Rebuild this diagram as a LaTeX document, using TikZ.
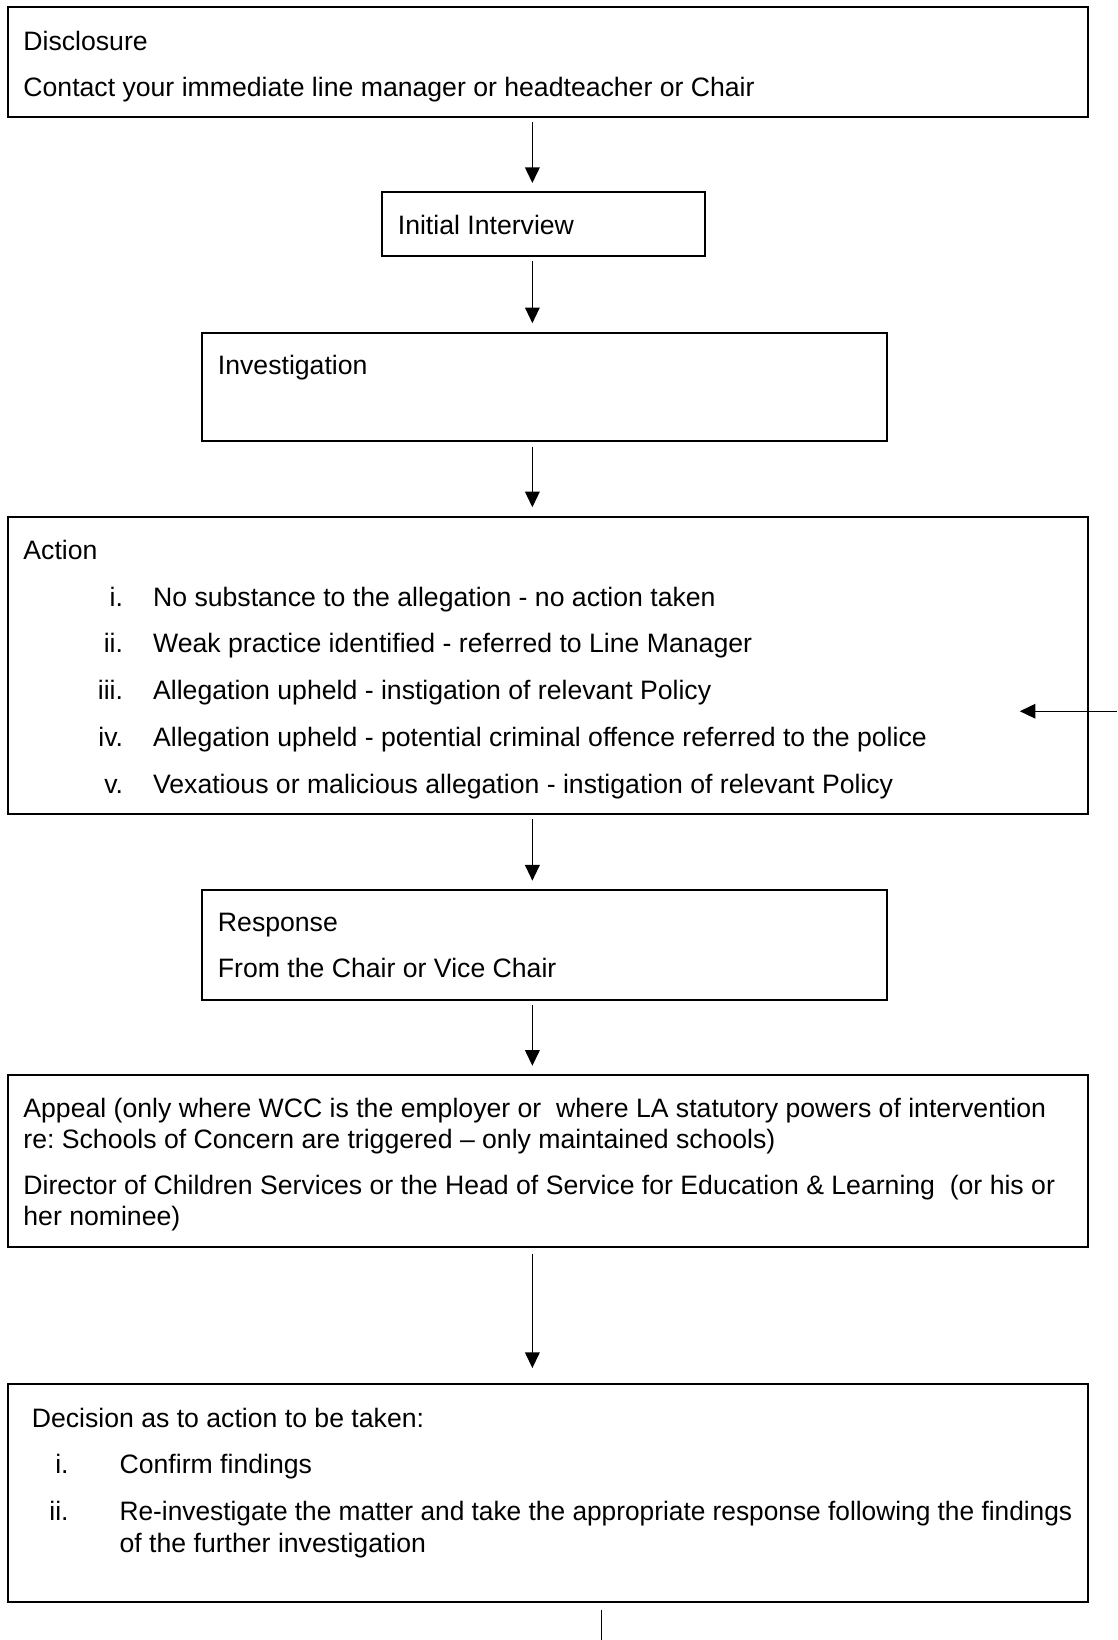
\documentclass[tikz,border=0pt]{standalone}
\usepackage{fontspec}
\setmainfont{Liberation Sans}
\usetikzlibrary{arrows.meta,fit}
\begin{document}
\frenchspacing
\begin{tikzpicture}[x=0.5pt,y=-0.5pt,
  box/.style={draw=black, line width=1pt, inner sep=0pt},
  arr/.style={draw=black, line width=0.7pt, -{Triangle[length=7.5pt,width=7pt]}},
  plain/.style={draw=black, line width=0.7pt},
  txt/.style={anchor=base west, inner sep=0pt, font=\fontsize{12.73}{15}\selectfont},
  num/.style={anchor=base east, inner sep=0pt, font=\fontsize{12.73}{15}\selectfont}]
\useasboundingbox (0,0) rectangle (1068,1568);
% boxes
\node[box, fit={(8,7)(1040,112)}] (b1) {};
\node[box, fit={(365,184)(674,245)}] (b2) {};
\node[box, fit={(193,318)(848,422)}] (b3) {};
\node[box, fit={(8,494)(1040,778)}] (b4) {};
\node[box, fit={(193,851)(848,956)}] (b5) {};
\node[box, fit={(8,1028)(1040,1192)}] (b6) {};
\node[box, fit={(8,1323)(1040,1532)}] (b7) {};
% texts
\node[txt] (t1a) at (22,48) {Disclosure};
\node[txt] (t1b) at (22,92) {Contact your immediate line manager or headteacher or Chair};
\node[txt] (t2) at (380,224) {Initial Interview};
\node[txt] (t3) at (208,358) {Investigation};
\node[txt] (t4) at (22,535) {Action};
\node[num] (n41) at (118,580) {i.};
\node[txt] (t41) at (146,580) {No substance to the allegation - no action taken};
\node[num] (n42) at (118,624) {ii.};
\node[txt] (t42) at (146,624) {Weak practice identified - referred to Line Manager};
\node[num] (n43) at (118,669) {iii.};
\node[txt] (t43) at (146,669) {Allegation upheld - instigation of relevant Policy};
\node[num] (n44) at (118,714) {iv.};
\node[txt] (t44) at (146,714) {Allegation upheld - potential criminal offence referred to the police};
\node[num] (n45) at (118,759) {v.};
\node[txt] (t45) at (146,759) {Vexatious or malicious allegation - instigation of relevant Policy};
\node[txt] (t5a) at (208,891) {Response};
\node[txt] (t5b) at (208,935) {From the Chair or Vice Chair};
\node[txt] (t6a) at (22,1068) {Appeal (only where WCC is the employer or \ where LA statutory powers of intervention};
\node[txt] (t6b) at (22,1098) {re: Schools of Concern are triggered -- only maintained schools)};
\node[txt] (t6c) at (22,1142) {Director of Children Services or the Head of Service for Education \& Learning \ (or his or};
\node[txt] (t6d) at (22,1172) {her nominee)};
\node[txt] (t7) at (30,1365) {Decision as to action to be taken:};
\node[num] (n71) at (66,1409) {i.};
\node[txt] (t71) at (114,1409) {Confirm findings};
\node[num] (n72) at (66,1454) {ii.};
\node[txt] (t72) at (114,1454) {\scalebox{0.987}[1]{Re-investigate the matter and take the appropriate response following the findings}};
\node[txt] (t72b) at (114,1484) {of the further investigation};
% connectors
\coordinate (ax) at (509,0);
\draw[arr, shorten <=2pt, shorten >=4pt] (b1.south -| ax) -- (b2.north -| ax);
\draw[arr, shorten <=2pt, shorten >=4pt] (b2.south -| ax) -- (b3.north -| ax);
\draw[arr, shorten <=2pt, shorten >=4pt] (b3.south -| ax) -- (b4.north -| ax);
\draw[arr, shorten <=2pt, shorten >=4pt] (b4.south -| ax) -- (b5.north -| ax);
\draw[arr, shorten <=2pt, shorten >=4pt] (b5.south -| ax) -- (b6.north -| ax);
\draw[arr, shorten <=3pt, shorten >=7pt] (b6.south -| ax) -- (b7.north -| ax);
\coordinate (rin) at (1068,680);
\coordinate (rtip) at (975,680);
\draw[arr] (rin) -- (rtip);
\coordinate (bx) at (575,1568);
\draw[plain, shorten <=3pt] (b7.south -| bx) -- (bx);
\end{tikzpicture}
\end{document}
